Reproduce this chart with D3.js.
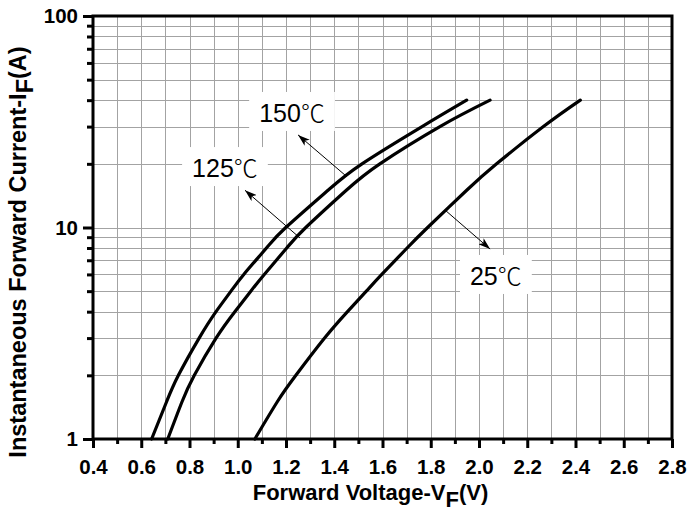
<!DOCTYPE html>
<html>
<head>
<meta charset="utf-8">
<script src="https://cdn.jsdelivr.net/npm/d3@7"></script>
<style>
  body { margin: 0; background: #fff; }
  svg { display: block; font-family: "Liberation Sans", Arial, sans-serif; }
</style>
</head>
<body>
<svg width="687" height="516"></svg>
<script>
// forward current (A) sampled on every curve
var currentA = [1, 1.5, 2, 3, 4, 5, 6, 8, 10, 15, 20, 30, 40]
// forward voltage (V) read at those currents
var vf150 = [0.643, 0.705, 0.754, 0.840, 0.910, 0.972, 1.025, 1.119, 1.199, 1.374, 1.515, 1.764, 1.949]
var vf125 = [0.71, 0.769, 0.82, 0.910, 0.988, 1.054, 1.110, 1.203, 1.282, 1.450, 1.589, 1.838, 2.046]
var vf25 = [1.071, 1.164, 1.241, 1.36, 1.455, 1.533, 1.597, 1.702, 1.787, 1.949, 2.073, 2.267, 2.42]

var xMajor = [0.4, 0.6, 0.8, 1.0, 1.2, 1.4, 1.6, 1.8, 2.0, 2.2, 2.4, 2.6, 2.8]
var xMinor = [0.5, 0.7, 0.9, 1.1, 1.3, 1.5, 1.7, 1.9, 2.1, 2.3, 2.5, 2.7]
var yMajor = [1, 10, 100]
var yMinor = [2, 3, 4, 5, 6, 7, 8, 9, 20, 30, 40, 50, 60, 70, 80, 90]

// label number, label centre, arrow tail (on curve) and head, in data units
var notes = [
  { t: '150', at: [1.225, 34.8], from: [1.452, 17.4], to: [1.25, 27.4] },
  { t: '125', at: [0.947, 19.1], from: [1.258, 8.92], to: [1.03, 15.0] },
  { t: '25', at: [2.07, 5.9], from: [1.859, 12.1], to: [2.046, 7.91] }
]

var svg = d3.select('svg')
  , m = { l: 93, r: 672, t: 16, b: 439 }

var x = d3.scaleLinear().domain([0.4, 2.8]).range([m.l, m.r])
var y = d3.scaleLog().domain([1, 100]).range([m.b, m.t])

// grid
var grid = svg.append('g').attr('stroke', '#a3a3a3').attr('stroke-width', 1)
grid.selectAll('.gx').data(d3.range(5, 28).map(function (i) { return i / 10 })).enter()
  .append('line')
  .attr('x1', function (d) { return Math.round(x(d)) + .5 })
  .attr('x2', function (d) { return Math.round(x(d)) + .5 })
  .attr('y1', m.t).attr('y2', m.b)
grid.selectAll('.gy').data(yMinor.concat([10])).enter()
  .append('line')
  .attr('y1', function (d) { return Math.round(y(d)) + .5 })
  .attr('y2', function (d) { return Math.round(y(d)) + .5 })
  .attr('x1', m.l).attr('x2', m.r)

// curves
var line = d3.line()
  .x(function (d) { return x(d[0]) })
  .y(function (d) { return y(d[1]) })
  .curve(d3.curveNatural)

svg.append('g').selectAll('path').data([vf150, vf125, vf25]).enter()
  .append('path')
  .attr('d', function (v) { return line(v.map(function (d, i) { return [d, currentA[i]] })) })
  .attr('fill', 'none').attr('stroke', '#000').attr('stroke-width', 3.2)
  .attr('stroke-linecap', 'round')

// arrows
svg.append('defs').append('marker')
  .attr('id', 'head').attr('viewBox', '0 0 12 8')
  .attr('refX', 12).attr('refY', 4)
  .attr('markerWidth', 12).attr('markerHeight', 8)
  .attr('markerUnits', 'userSpaceOnUse')
  .attr('orient', 'auto')
  .append('path').attr('d', 'M0,0L12,4L0,8L3,4Z').attr('fill', '#000')

svg.append('g').selectAll('line').data(notes).enter()
  .append('line')
  .attr('x1', function (d) { return x(d.from[0]) })
  .attr('y1', function (d) { return y(d.from[1]) })
  .attr('x2', function (d) { return x(d.to[0]) })
  .attr('y2', function (d) { return y(d.to[1]) })
  .attr('stroke', '#000').attr('stroke-width', 1)
  .attr('marker-end', 'url(#head)')

// label boxes
var noteG = svg.append('g')
var texts = noteG.selectAll('text').data(notes).enter().append('text')
  .attr('x', function (d) { return x(d.at[0]) })
  .attr('y', function (d) { return y(d.at[1]) + 9 })
  .attr('text-anchor', 'middle')
  .attr('font-size', 25)
texts.append('tspan').text(function (d) { return d.t })
texts.append('tspan').attr('font-family', '"Noto Sans CJK SC"').attr('font-weight', 300)
  .attr('font-size', 24).text('℃')
texts.each(function () {
  var b = this.getBBox()
  noteG.insert('rect', 'text')
    .attr('x', b.x - 10).attr('y', b.y - 2)
    .attr('width', b.width + 20).attr('height', b.height + 4)
    .attr('fill', '#fff')
})

// axes
function style(g) {
  g.select('.domain').remove()
  g.selectAll('.tick line').attr('stroke', '#000').attr('stroke-width', 3)
  g.selectAll('.tick text').attr('font-size', 20.5).attr('font-weight', 'bold').attr('fill', '#000')
}

svg.append('g').attr('transform', 'translate(0,' + m.b + ')')
  .call(d3.axisBottom(x).tickValues(xMajor).tickSize(9).tickPadding(11).tickFormat(d3.format('.1f')))
  .call(style)
svg.append('g').attr('transform', 'translate(0,' + m.b + ')')
  .call(d3.axisBottom(x).tickValues(xMinor).tickSize(5).tickFormat(''))
  .call(style)
svg.append('g').attr('transform', 'translate(' + m.l + ',0)')
  .call(d3.axisLeft(y).tickValues(yMajor).tickSize(10).tickPadding(5).tickFormat(d3.format('d')))
  .call(style)
svg.append('g').attr('transform', 'translate(' + m.l + ',0)')
  .call(d3.axisLeft(y).tickValues(yMinor).tickSize(6).tickFormat(''))
  .call(style)

svg.append('rect')
  .attr('x', m.l).attr('y', m.t).attr('width', m.r - m.l).attr('height', m.b - m.t)
  .attr('fill', 'none').attr('stroke', '#000').attr('stroke-width', 3)

// titles
var xt = svg.append('text')
  .attr('x', (m.l + m.r) / 2 - 12).attr('y', 500)
  .attr('text-anchor', 'middle').attr('font-size', 22).attr('font-weight', 'bold')
xt.append('tspan').text('Forward Voltage-V')
xt.append('tspan').attr('dy', 7).text('F')
xt.append('tspan').attr('dy', -7).text('(V)')

var yt = svg.append('text')
  .attr('transform', 'translate(26,' + 252 + ') rotate(-90)')
  .attr('text-anchor', 'middle').attr('font-size', 23.5).attr('font-weight', 'bold')
yt.append('tspan').text('Instantaneous Forward Current-I')
yt.append('tspan').attr('dy', 7).text('F')
yt.append('tspan').attr('dy', -7).text('(A)')
</script>
</body>
</html>
